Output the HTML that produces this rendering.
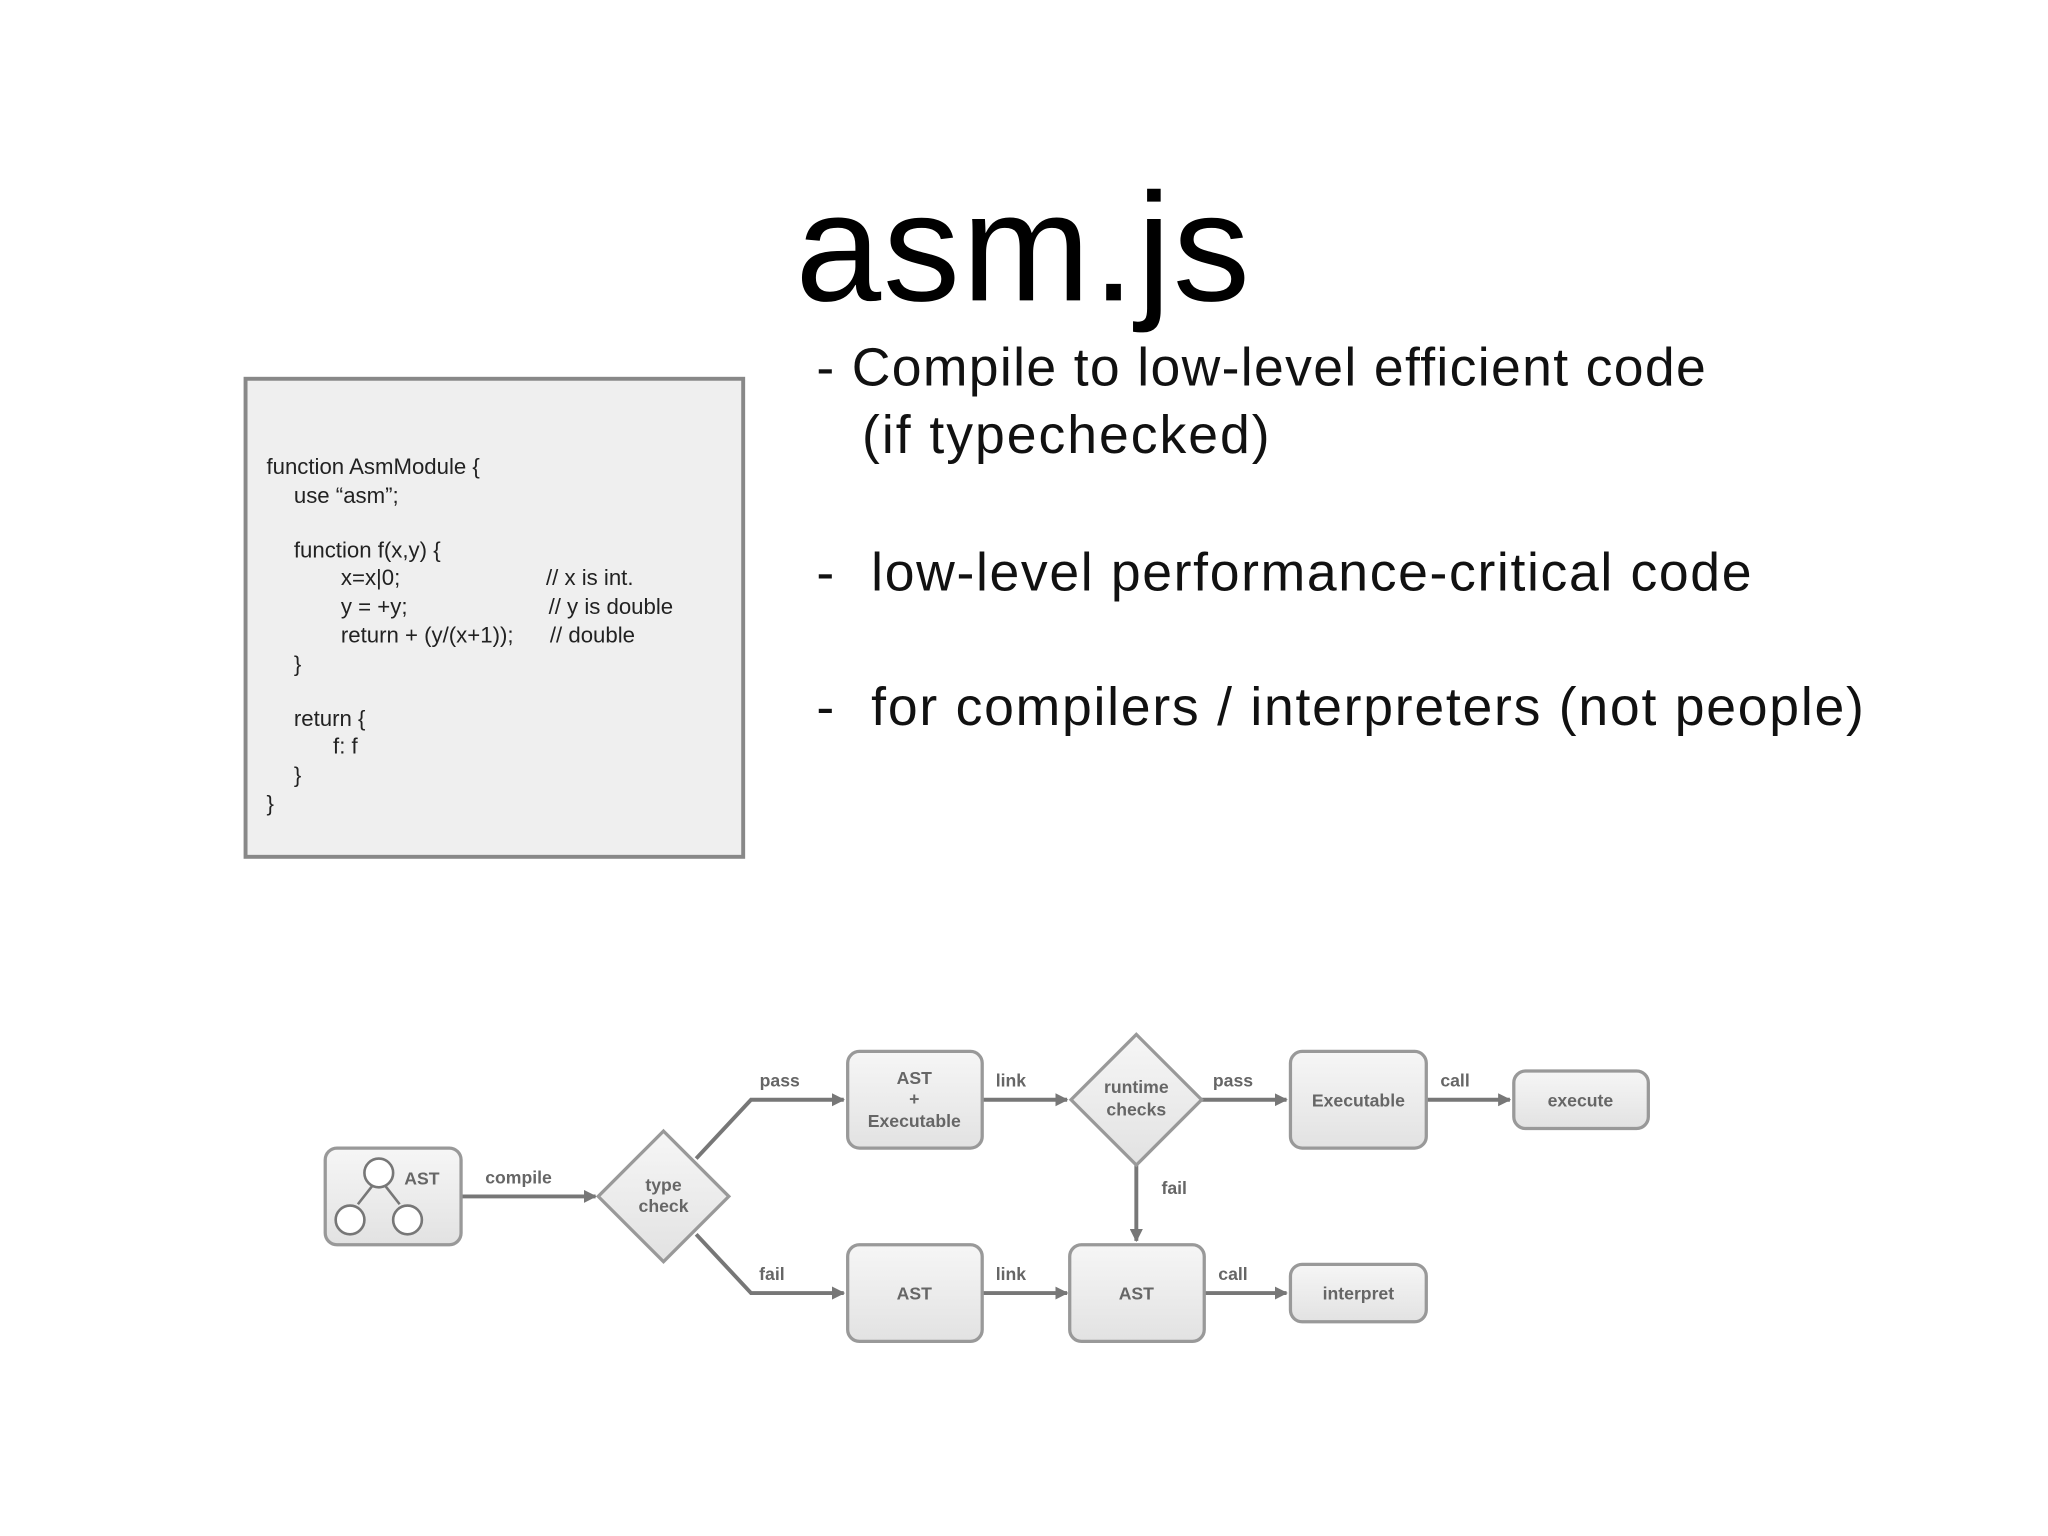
<!DOCTYPE html>
<html><head><meta charset="utf-8"><style>
html,body{margin:0;padding:0;background:#fff;}
svg{display:block;}
</style></head><body>
<svg width="2048" height="1536" viewBox="0 0 1568 1176" xmlns="http://www.w3.org/2000/svg">
<defs>
<linearGradient id="g" x1="0" y1="0" x2="0" y2="1"><stop offset="0" stop-color="#f6f6f6"/><stop offset="1" stop-color="#e2e2e2"/></linearGradient>
<marker id="ar" markerWidth="10" markerHeight="10" refX="9" refY="5" orient="auto" markerUnits="userSpaceOnUse"><path d="M0,0 L10,5 L0,10 z" fill="#777"/></marker>
</defs>
<rect width="1568" height="1176" fill="#fff"/>
<text x="783" y="230" font-family="Liberation Sans, sans-serif" font-size="118" text-anchor="middle" textLength="348" fill="#000">asm.js</text>
<g font-family="Liberation Sans, sans-serif" font-size="41" fill="#111">
<text x="625" y="295" textLength="681">- Compile to low-level efficient code</text>
<text x="660" y="347" textLength="312">(if typechecked)</text>
<text x="625" y="452">-</text>
<text x="667" y="452" textLength="674">low-level performance-critical code</text>
<text x="625" y="555">-</text>
<text x="667" y="555" textLength="760">for compilers / interpreters  (not people)</text>
</g>
<rect x="188" y="290" width="381" height="366" fill="#efefef" stroke="#888" stroke-width="3"/>
<g font-family="Liberation Sans, sans-serif" font-size="17" fill="#222">
<text x="204" y="363">function AsmModule {</text>
<text x="225" y="385">use “asm”;</text>
<text x="225" y="427">function f(x,y) {</text>
<text x="261" y="448">x=x|0;</text><text x="418" y="448">// x is int.</text>
<text x="261" y="470">y = +y;</text><text x="420" y="470">//  y is double</text>
<text x="261" y="492">return + (y/(x+1));</text><text x="421" y="492">// double</text>
<text x="225" y="514">}</text>
<text x="225" y="556">return {</text>
<text x="255" y="577">f: f</text>
<text x="225" y="599">}</text>
<text x="204" y="621">}</text>
</g>
<g stroke="#777" stroke-width="3" fill="none" marker-end="url(#ar)">
<path d="M353,916 L456,916"/>
<path d="M533,887 L575,842 L646,842"/>
<path d="M533,945 L575,990 L646,990"/>
<path d="M752,842 L817,842"/>
<path d="M920,842 L985,842"/>
<path d="M1092,842 L1156,842"/>
<path d="M870,892 L870,950"/>
<path d="M752,990 L817,990"/>
<path d="M922,990 L985,990"/>
</g>
<g fill="url(#g)" stroke="#999" stroke-width="2.5">
<rect x="249" y="879" width="104" height="74" rx="9"/>
<path d="M508,866 L558,916 L508,966 L458,916 z"/>
<rect x="649" y="805" width="103" height="74" rx="9"/>
<path d="M870,792 L920,842 L870,892 L820,842 z"/>
<rect x="988" y="805" width="104" height="74" rx="9"/>
<rect x="1159" y="820" width="103" height="44" rx="9"/>
<rect x="649" y="953" width="103" height="74" rx="9"/>
<rect x="819" y="953" width="103" height="74" rx="9"/>
<rect x="988" y="968" width="104" height="44" rx="9"/>
</g>
<g stroke="#777" stroke-width="2" fill="#fff">
<circle cx="290" cy="898" r="11"/>
<circle cx="268" cy="934" r="11"/>
<circle cx="312" cy="934" r="11"/>
<path d="M285,908 L274,922 M295,908 L306,922" fill="none"/>
</g>
<g font-family="Liberation Sans, sans-serif" font-size="13.5" font-weight="bold" fill="#666" text-anchor="middle">
<text x="323" y="907">AST</text>
<text x="397" y="906">compile</text>
<text x="508" y="912">type</text><text x="508" y="928">check</text>
<text x="597" y="832">pass</text>
<text x="591" y="980">fail</text>
<text x="700" y="830">AST</text><text x="700" y="846">+</text><text x="700" y="863">Executable</text>
<text x="774" y="832">link</text>
<text x="870" y="837">runtime</text><text x="870" y="854">checks</text>
<text x="944" y="832">pass</text>
<text x="1040" y="847">Executable</text>
<text x="1114" y="832">call</text>
<text x="1210" y="847">execute</text>
<text x="899" y="914">fail</text>
<text x="700" y="995">AST</text>
<text x="774" y="980">link</text>
<text x="870" y="995">AST</text>
<text x="944" y="980">call</text>
<text x="1040" y="995">interpret</text>
</g>
</svg>
</body></html>
